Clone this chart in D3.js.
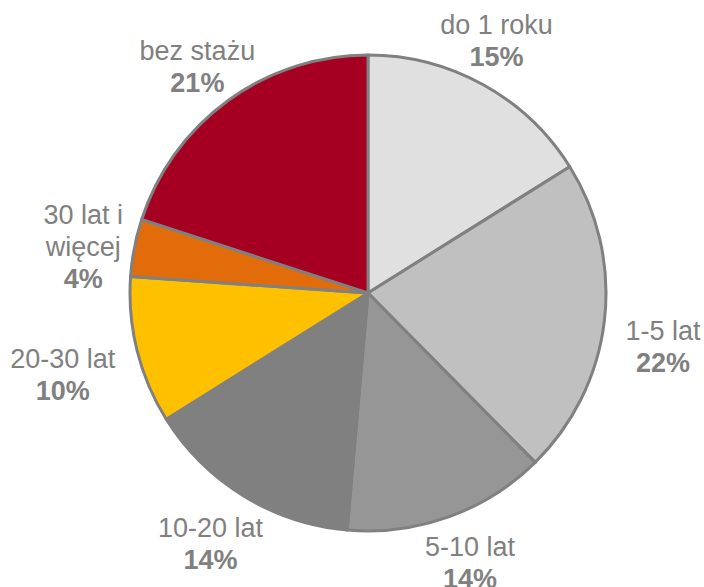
<!DOCTYPE html>
<html>
<head>
<meta charset="utf-8">
<script src="https://cdn.jsdelivr.net/npm/d3@7"></script>
<style>
  body { margin: 0; background: #fff; }
  text { font-family: "Liberation Sans", Arial, sans-serif; fill: #808080; }
</style>
</head>
<body>
<script>
// data: slice sizes as drawn in the picture, and the printed percentage labels
var categories = ["do 1 roku", "1-5 lat", "5-10 lat", "10-20 lat", "20-30 lat", "30 lat i więcej", "bez stażu"];
var values = [16.1, 21.5, 13.8, 14.7, 10.0, 3.9, 20.0];
var pctLabels = ["15%", "22%", "14%", "14%", "10%", "4%", "21%"];
var labelLines = [["do 1 roku"], ["1-5 lat"], ["5-10 lat"], ["10-20 lat"], ["20-30 lat"], ["30 lat i", "więcej"], ["bez stażu"]];
var colors = ["#e0e0e0", "#c0c0c0", "#969696", "#808080", "#ffc000", "#e36c0a", "#a50021"];

// label nudges (px) from the label arc centroid
var nudge = [[-13, 2], [5, 19], [3, -6], [-5, 1], [-22, 10], [2, 9], [1, 9]];

var svgWidth = 704, svgHeight = 587;
var cx = 368, cy = 293, radius = 238, labelRadius = 292;

var svg = d3.select("body").append("svg")
  .attr("width", svgWidth)
  .attr("height", svgHeight);

var g = svg.append("g").attr("transform", `translate(${cx}, ${cy})`);

var pie = d3.pie().sort(null).value(d => d);
var arcs = pie(values);

var arc = d3.arc().innerRadius(0).outerRadius(radius);
var labelArc = d3.arc().innerRadius(labelRadius).outerRadius(labelRadius);

g.selectAll("path.slice")
  .data(arcs)
  .enter()
  .append("path")
  .attr("class", "slice")
  .attr("d", arc)
  .attr("fill", (d, i) => colors[i])
  .attr("stroke", "#808080")
  .attr("stroke-width", 3)
  .attr("stroke-linejoin", "round");

var lineH = 32;
var labels = g.selectAll("g.lbl")
  .data(arcs)
  .enter()
  .append("g")
  .attr("class", "lbl")
  .attr("transform", (d, i) => {
    var c = labelArc.centroid(d);
    return `translate(${c[0] + nudge[i][0]}, ${c[1] + nudge[i][1]})`;
  });

labels.each(function(d, i) {
  var lines = labelLines[i];
  var n = lines.length + 1;
  var top = -(n - 1) * lineH / 2 + 10;
  var sel = d3.select(this);
  lines.forEach(function(t, k) {
    sel.append("text")
      .attr("text-anchor", "middle")
      .attr("y", top + k * lineH)
      .style("font-size", "27px")
      .text(t);
  });
  sel.append("text")
    .attr("text-anchor", "middle")
    .attr("y", top + lines.length * lineH)
    .style("font-size", "27px")
    .style("font-weight", "bold")
    .text(pctLabels[i]);
});
</script>
</body>
</html>
